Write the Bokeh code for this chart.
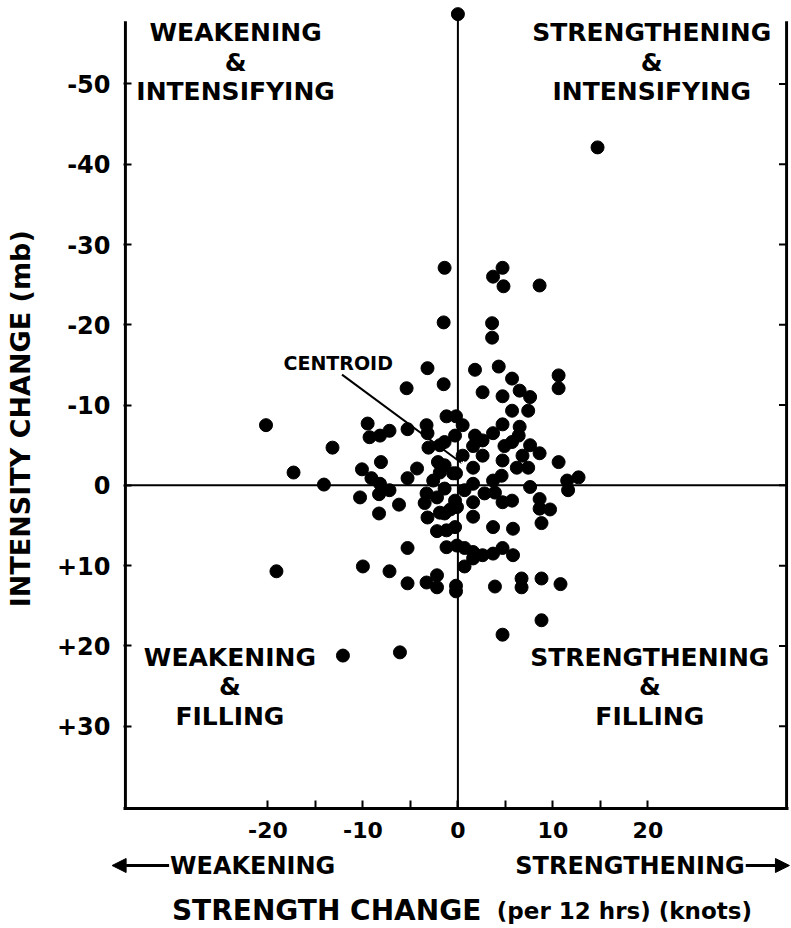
import math
from bokeh.plotting import figure
from bokeh.layouts import column, row
from bokeh.models import Range1d, FixedTicker, Label, Arrow, NormalHead
from bokeh.embed import file_html
from bokeh.resources import INLINE

# ---------------- data ----------------
strength_change = [
    0.0, 14.7, -1.4, 4.7, 3.7, 4.8, 8.6, -1.5, 3.6, 3.6,
    -3.2, 1.8, 4.3, 5.7, 10.6, 10.6, -1.5, -5.4, 2.6, 6.5,
    4.7, 7.6, 5.7, 7.4, -20.2, -9.5, -9.3, -8.2, -7.2, -5.3,
    -3.3, -3.2, -1.2, -0.2, 0.5, -0.3, 1.8, 2.6, 3.7, 4.7,
    6.5, 6.4, 4.9, 5.7, 7.6, 8.6, 1.6, -1.4, -1.9, -3.1,
    -13.2, -17.3, -14.1, -8.1, -10.1, -9.1, -8.2, -4.3, -5.3, -2.1,
    -1.9, -2.6, -0.5, -1.4, 0.5, 2.6, 1.6, -0.2, 4.7, 6.8,
    6.2, 7.4, 4.6, 10.6, 11.5, 12.7, 11.6, 3.7, 3.9, 2.8,
    7.6, 1.6, 0.7, -0.3, -1.4, 1.6, 4.7, 5.7, 8.6, 9.7,
    8.6, 1.6, 3.7, 5.8, 8.8, -0.3, -1.4, -10.3, -8.3, -7.2,
    -6.2, -8.3, -3.3, -3.5, -2.2, -3.2, -1.9, -0.8, -2.2, -1.2,
    -0.1, -5.3, -1.2, -0.1, 0.7, 1.6, 1.6, 2.6, 3.7, 4.7,
    5.8, 0.7, -19.1, -10.0, -7.2, -5.3, -3.3, -2.2, -2.2, -0.2,
    -0.2, 3.9, 6.7, 6.7, 8.8, 10.8, 8.8, 4.7, -12.1, -6.1,
]
intensity_change = [
    -58.7, -42.1, -27.1, -27.1, -26.0, -24.8, -24.9, -20.3, -20.2, -18.4,
    -14.6, -14.4, -14.8, -13.3, -13.7, -12.1, -12.6, -12.1, -11.6, -11.8,
    -11.1, -11.0, -9.3, -9.3, -7.5, -7.7, -6.0, -6.2, -6.8, -7.0,
    -7.5, -6.5, -8.6, -8.6, -7.5, -6.2, -6.2, -5.6, -6.5, -7.6,
    -7.3, -6.2, -4.9, -5.4, -5.0, -4.0, -4.9, -5.4, -5.0, -4.7,
    -4.7, -1.6, -0.1, -2.9, -2.0, -0.9, -0.2, -2.1, -0.9, -2.9,
    -1.6, -0.6, -1.5, -2.5, -3.7, -3.7, -2.2, -1.5, -3.1, -3.7,
    -2.2, -2.2, -1.2, -2.9, -0.6, -1.0, 0.6, -0.6, 0.9, 1.0,
    0.2, -0.2, 0.6, 1.9, 0.4, 2.1, 2.1, 1.9, 1.7, 3.0,
    2.9, 3.9, 5.2, 5.4, 4.7, 5.2, 3.5, 1.5, 1.1, 0.6,
    2.4, 3.5, 1.0, 2.2, 1.5, 4.0, 3.4, 3.0, 5.7, 5.6,
    2.7, 7.8, 7.7, 7.5, 7.8, 8.3, 9.1, 8.7, 8.5, 7.8,
    8.7, 10.1, 10.7, 10.1, 10.7, 12.2, 12.1, 11.2, 12.7, 12.5,
    13.2, 12.6, 11.6, 12.7, 11.6, 12.3, 16.8, 18.6, 21.2, 20.8,
]
centroid_x = [0.6]
centroid_y = [-2.6]

x_tick_values = [-20, -10, 0, 10, 20]
x_tick_labels = ["-20", "-10", "0", "10", "20"]
x_minor_values = [-15, -5, 5, 15]
y_tick_values = [-50, -40, -30, -20, -10, 0, 10, 20, 30]
y_tick_labels = ["-50", "-40", "-30", "-20", "-10", "0", "+10", "+20", "+30"]

quadrant_labels = [
    ["WEAKENING", "&", "INTENSIFYING"],
    ["STRENGTHENING", "&", "INTENSIFYING"],
    ["WEAKENING", "&", "FILLING"],
    ["STRENGTHENING", "&", "FILLING"],
]
y_title = "INTENSITY CHANGE (mb)"
x_title_main = "STRENGTH  CHANGE"
x_title_unit = "(per 12 hrs) (knots)"
dir_left = "WEAKENING"
dir_right = "STRENGTHENING"

# ---------------- layout constants ----------------
X_LO, X_HI = -35.2, 34.8
Y_BOTTOM, Y_TOP = 40.25, -59.65
AXIS_LEFT_X, AXIS_RIGHT_X = -35.0, 34.6
AXIS_TOP_Y = -57.8
FONT = "DejaVu Sans"
LEFT_W = 45
MAIN_W = 746
MAIN_H = 848
BOTTOM_H = 80

p = figure(width=MAIN_W, height=MAIN_H,
           x_range=Range1d(X_LO, X_HI), y_range=Range1d(Y_BOTTOM, Y_TOP),
           output_backend="svg", toolbar_location=None,
           min_border_left=78, min_border_right=3,
           min_border_top=6, min_border_bottom=40)
p.grid.visible = False
p.outline_line_color = None
p.background_fill_color = "white"
p.border_fill_color = "white"

# bottom axis
xa = p.xaxis[0]
xa.ticker = FixedTicker(ticks=x_tick_values, minor_ticks=x_minor_values)
xa.major_label_overrides = {v: s for v, s in zip(x_tick_values, x_tick_labels)}
xa.axis_line_width = 3
xa.axis_line_color = "black"
xa.major_tick_in = 8
xa.major_tick_out = 0
xa.minor_tick_in = 8
xa.minor_tick_out = 0
xa.major_tick_line_width = 2
xa.minor_tick_line_width = 2
xa.major_label_standoff = 13
xa.major_label_text_font = FONT
xa.major_label_text_font_style = "bold"
xa.major_label_text_font_size = "22px"
xa.major_label_text_color = "black"

# left axis
ya = p.yaxis[0]
ya.ticker = FixedTicker(ticks=y_tick_values)
ya.major_label_overrides = {v: s for v, s in zip(y_tick_values, y_tick_labels)}
ya.axis_line_color = None
ya.major_tick_in = 8
ya.major_tick_out = 0
ya.minor_tick_line_color = None
ya.major_tick_line_width = 2
ya.major_label_standoff = 13
ya.major_label_text_font = FONT
ya.major_label_text_font_style = "bold"
ya.major_label_text_font_size = "24px"
ya.major_label_text_color = "black"

# frame side lines
p.segment(x0=[AXIS_LEFT_X, AXIS_RIGHT_X], y0=[Y_BOTTOM, Y_BOTTOM],
          x1=[AXIS_LEFT_X, AXIS_RIGHT_X], y1=[AXIS_TOP_Y, AXIS_TOP_Y],
          line_color="black", line_width=3)
# right-side inward ticks
p.segment(x0=[AXIS_RIGHT_X] * len(y_tick_values), y0=y_tick_values,
          x1=[AXIS_RIGHT_X - 0.8] * len(y_tick_values), y1=y_tick_values,
          line_color="black", line_width=2)

# zero lines
p.segment(x0=[AXIS_LEFT_X], y0=[0], x1=[AXIS_RIGHT_X], y1=[0],
          line_color="black", line_width=2)
p.segment(x0=[0], y0=[Y_BOTTOM], x1=[0], y1=[intensity_change[0]],
          line_color="black", line_width=2)

# centroid leader
p.segment(x0=[-12.2], y0=[-13.8], x1=centroid_x, y1=centroid_y,
          line_color="black", line_width=2)

# points
p.scatter(x=strength_change, y=intensity_change, size=13, marker="circle",
          fill_color="black", line_color="black")
p.scatter(x=centroid_x, y=centroid_y, marker="asterisk", size=7,
          line_color="white", line_width=1.5)


def lab(fig, x, y, t, size, style="bold", align="center", baseline="middle", angle=0.0):
    fig.add_layout(Label(x=x, y=y, text=t, text_font=FONT, text_font_size=size,
                         text_font_style=style, text_align=align,
                         text_baseline=baseline, angle=angle, text_color="black"))


# quadrant labels
quad_pos = [(-23.4, -56.4), (20.4, -56.4), (-24.0, 21.4), (20.2, 21.4)]
for (qx, qy), lines in zip(quad_pos, quadrant_labels):
    for i, t in enumerate(lines):
        lab(p, qx, qy + i * 3.7, t, "25px")

lab(p, -12.6, -15.3, "CENTROID", "19px")


def panel(w, h, xr, yr):
    f = figure(width=w, height=h, x_range=xr, y_range=yr,
               output_backend="svg", toolbar_location=None,
               min_border_left=0, min_border_right=0,
               min_border_top=0, min_border_bottom=0,
               x_axis_type=None, y_axis_type=None)
    f.grid.visible = False
    f.outline_line_color = None
    f.background_fill_color = "white"
    f.border_fill_color = "white"
    return f


# left panel with y title (same vertical data scale as main plot)
left = panel(LEFT_W, MAIN_H, Range1d(0, LEFT_W),
             Range1d(Y_BOTTOM + 40 / 8.03, Y_TOP - 6 / 8.03))
lab(left, 20, -6.1, y_title, "27px", angle=math.pi / 2)

# bottom panel with direction labels and axis title (same x data scale)
bottom = panel(MAIN_W + LEFT_W, BOTTOM_H,
               Range1d(X_LO - 123 / 9.5, X_LO - 123 / 9.5 + 791 / 9.5),
               Range1d(BOTTOM_H, 0))
lab(bottom, -30.3, 17, dir_left, "24px", align="left")
lab(bottom, 30.2, 17, dir_right, "24px", align="right")
bottom.add_layout(Arrow(end=NormalHead(size=14, fill_color="black", line_color="black"),
                        x_start=-30.4, y_start=17, x_end=-36.4, y_end=17,
                        line_width=3, line_color="black"))
bottom.add_layout(Arrow(end=NormalHead(size=14, fill_color="black", line_color="black"),
                        x_start=30.3, y_start=17, x_end=34.9, y_end=17,
                        line_width=3, line_color="black"))
lab(bottom, -30.1, 62, x_title_main, "28px", style="bold", align="left",
    baseline="alphabetic")
lab(bottom, 4.1, 62, x_title_unit, "23px", align="left", baseline="alphabetic")

layout = column(row(left, p, spacing=0), bottom, spacing=0)
open("out.html", "w").write(file_html(layout, INLINE))
